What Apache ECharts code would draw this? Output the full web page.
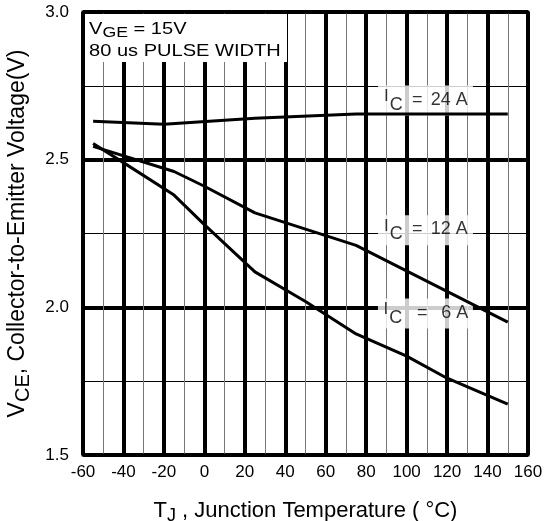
<!DOCTYPE html>
<html><head><meta charset="utf-8">
<script src="https://cdn.jsdelivr.net/npm/echarts@6/dist/echarts.min.js"></script>
<style>html,body{margin:0;padding:0;background:#fff}#c{width:551px;height:521px}</style>
</head><body><div id="c"></div>
<script>
// Data
const xTicks = [-60, -40, -20, 0, 20, 40, 60, 80, 100, 120, 140, 160];
const yTicks = [1.5, 2.0, 2.5, 3.0];
const t24 = [-55, -20, 25, 75, 150];
const v24 = [2.63, 2.62, 2.64, 2.655, 2.655];
const t12 = [-55, -15, 0, 25, 50, 75, 150];
const v12 = [2.545, 2.46, 2.41, 2.32, 2.265, 2.21, 1.95];
const t6 = [-55, -40, -15, 0, 25, 50, 75, 100, 120, 150];
const v6 = [2.555, 2.49, 2.38, 2.28, 2.12, 2.02, 1.91, 1.835, 1.76, 1.672];
const curveLabels = ['24 A', '12 A', '6 A'];
const labelT = [109.3, 109.3, 109.3];
const labelV = [2.70, 2.261, 1.979];

const F = 'Liberation Sans, Arial, Helvetica, sans-serif';
const pair = (xs, ys) => xs.map((x, i) => [x, ys[i]]);
const lineSeries = (xs, ys) => ({
  type: 'line', data: pair(xs, ys), showSymbol: false, symbol: 'none', z: 5,
  lineStyle: { color: '#000', width: 3 }, smooth: false, silent: true
});

const chart = echarts.init(document.getElementById('c'), null, { renderer: 'canvas' });
chart.setOption({
  animation: false,
  backgroundColor: '#fff',
  grid: { left: 83, right: 23, top: 12, bottom: 66, outerBoundsMode: 'none', containLabel: false,
          show: true, borderColor: '#000', borderWidth: 3, backgroundColor: 'transparent', z: 10 },
  xAxis: {
    type: 'value', min: -60, max: 160, interval: 20,
    axisLine: { show: false }, axisTick: { show: false },
    axisLabel: { color: '#000', fontSize: 17, fontFamily: F, margin: 9 },
    splitLine: { show: true, lineStyle: { color: '#000', width: 4 } },
    minorTick: { show: false, splitNumber: 2 },
    minorSplitLine: { show: true, lineStyle: { color: '#777', width: 1 } },
    name: '{a|T}{s|J}{a| , Junction Temperature ( °C)}',
    nameLocation: 'middle', nameGap: 42,
    nameTextStyle: { color: '#000', fontFamily: F, rich: {
      a: { fontSize: 22, fontFamily: F, color: '#000' },
      s: { fontSize: 18, fontFamily: F, color: '#000', padding: [10, 0, 0, 0] }
    } }
  },
  yAxis: {
    type: 'value', min: 1.5, max: 3.0, interval: 0.5,
    axisLine: { show: false }, axisTick: { show: false },
    axisLabel: { color: '#000', fontSize: 17, fontFamily: F, margin: 14, padding: [10, 0, 0, 0],
                 formatter: v => v.toFixed(1) },
    splitLine: { show: true, lineStyle: { color: '#000', width: 4 } },
    minorTick: { show: false, splitNumber: 2 },
    minorSplitLine: { show: true, lineStyle: { color: '#000', width: 1 } },
    name: '{a|V}{s|CE}{a|, Collector-to-Emitter Voltage(V)}',
    nameLocation: 'middle', nameGap: 50, nameRotate: 90,
    nameTextStyle: { color: '#000', fontFamily: F, rich: {
      a: { fontSize: 23, fontFamily: F, color: '#000' },
      s: { fontSize: 20, fontFamily: F, color: '#000', padding: [10, 0, 0, 0] }
    } }
  },
  graphic: [{
    type: 'rect', x: 85, y: 14, shape: { width: 202, height: 48 }, style: { fill: '#fff' }, z: 1
  }, {
    type: 'text', x: 89, y: 18, scaleX: 1.18, z: 2,
    style: {
      text: '{a|V}{s|GE}{a| = 15V}\n{a|80 us PULSE WIDTH}',
      align: 'left', verticalAlign: 'top',
      fill: '#000',
      rich: {
        a: { fontSize: 17, fontFamily: F, fill: '#000', lineHeight: 22 },
        s: { fontSize: 15, fontFamily: F, fill: '#000', padding: [7, 0, 0, 0], lineHeight: 22 }
      }
    }
  }],
  series: [
    lineSeries(t24, v24),
    lineSeries(t12, v12),
    lineSeries(t6, v6),
    {
      type: 'scatter', symbolSize: 0, z: 3, silent: true,
      data: labelT.map((t, i) => ({ value: [t, labelV[i]], name: curveLabels[i] })),
      label: {
        show: true, position: 'inside', backgroundColor: '#fff', width: 94, height: 30,
        padding: [0, 0, 0, 1], align: 'center',
        formatter: p => '{i|I}{c|C}{' + (p.name === '6 A' ? 'e2' : 'e1') + '|=}{n|' + p.name + '}',
        rich: {
          i: { fontSize: 17, fontFamily: F, color: '#000', padding: [0, 1, 6, 0] },
          c: { fontSize: 18, fontFamily: F, color: '#000', padding: [10, 1, 0, 0] },
          e1: { fontSize: 18, fontFamily: F, color: '#000', width: 27, align: 'left' },
          e2: { fontSize: 18, fontFamily: F, color: '#000', width: 38, align: 'left' },
          n: { fontSize: 18, fontFamily: F, color: '#000' }
        }
      }
    }
  ]
});
</script></body></html>
